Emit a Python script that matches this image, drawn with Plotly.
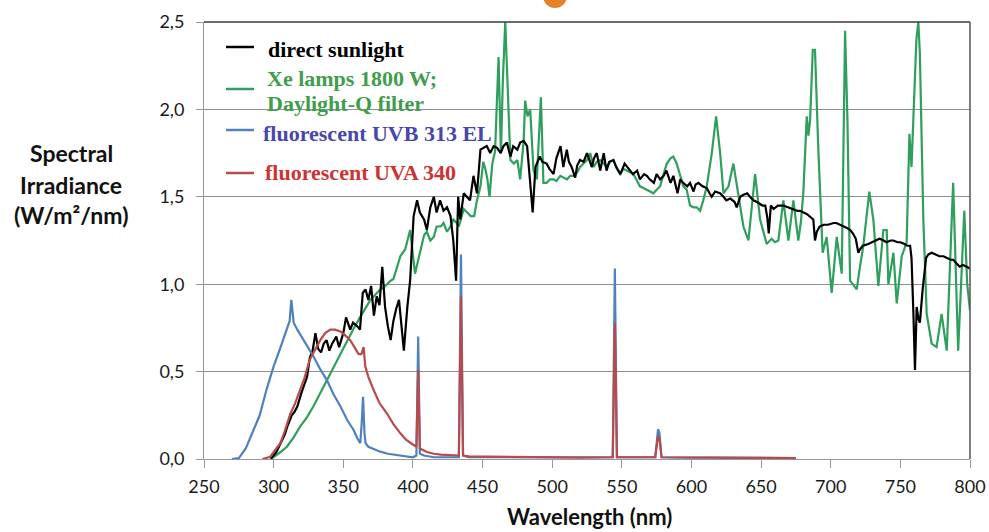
import plotly.graph_objects as go

# ---------------- data ----------------
sun_nm = [298, 302, 305, 308, 310, 313, 315, 317, 320, 322,
          324, 326, 328, 330, 332, 334, 336, 338, 340, 342,
          345, 347, 350, 352, 355, 357, 360, 362, 364, 366,
          368, 370, 372, 374, 376, 378, 380, 382, 384, 386,
          388, 390, 392, 393.5, 396, 398, 400.5, 403, 405, 408,
          410, 412.5, 415, 417, 419.5, 422, 424.5, 427, 429, 431,
          432.5, 434, 436.5, 439, 441, 443.5, 446, 448.5, 451, 453,
          455.5, 458, 460.5, 463, 465, 467.5, 470, 472, 475, 477,
          479.5, 482, 484, 486, 488, 491, 493, 496, 498, 501,
          503, 506, 508, 510.5, 512, 514, 516.5, 518, 520, 522.5,
          525, 527, 528.5, 530, 532, 534.5, 537, 539, 541, 544,
          546, 549, 552, 555, 558, 561, 563, 566, 568, 570,
          573, 575, 577.5, 580, 582, 585, 587, 590, 592, 594,
          597, 599, 601.5, 603, 605, 608, 611, 613, 614.5, 617,
          620.5, 623, 625, 628, 631, 632.5, 635, 637, 640, 642,
          644.5, 647, 649, 651, 653, 654.5, 655.5, 657, 659, 662,
          666, 669, 673, 676, 678, 681, 683, 686, 687.5, 688.7,
          690, 692, 695, 698, 702, 704, 707, 710, 712, 714,
          716, 718, 719.8, 721, 723, 727, 730, 733, 735, 738,
          740, 743, 745, 748, 750, 753, 755, 757, 758, 759.3,
          760.5, 761.7, 763, 764, 766, 768.5, 770, 772.5, 775, 778,
          781, 783, 786, 788, 790, 792.5, 795, 797.5, 800]
sun_val = [0.00, 0.04, 0.09, 0.14, 0.19, 0.25, 0.27, 0.30, 0.38, 0.42,
           0.47, 0.58, 0.62, 0.72, 0.63, 0.61, 0.66, 0.68, 0.62, 0.66,
           0.70, 0.64, 0.72, 0.81, 0.74, 0.78, 0.76, 0.74, 0.95, 0.97,
           0.91, 0.99, 0.82, 0.93, 0.88, 1.10, 0.87, 0.76, 0.68, 0.79,
           0.86, 0.91, 0.75, 0.62, 0.87, 1.02, 1.39, 1.48, 1.41, 1.37,
           1.31, 1.44, 1.50, 1.41, 1.48, 1.42, 1.44, 1.39, 1.25, 1.02,
           1.50, 1.37, 1.52, 1.50, 1.48, 1.62, 1.52, 1.77, 1.78, 1.79,
           1.75, 1.79, 1.78, 1.75, 1.79, 1.81, 1.73, 1.79, 1.77, 1.81,
           1.82, 1.79, 1.60, 1.41, 1.67, 1.73, 1.70, 1.69, 1.66, 1.63,
           1.72, 1.79, 1.67, 1.77, 1.70, 1.67, 1.61, 1.68, 1.71, 1.70,
           1.75, 1.71, 1.67, 1.72, 1.75, 1.65, 1.75, 1.65, 1.70, 1.71,
           1.67, 1.63, 1.69, 1.66, 1.63, 1.65, 1.60, 1.63, 1.62, 1.60,
           1.58, 1.63, 1.60, 1.62, 1.65, 1.58, 1.62, 1.52, 1.60, 1.58,
           1.56, 1.58, 1.53, 1.57, 1.58, 1.56, 1.55, 1.52, 1.50, 1.53,
           1.52, 1.50, 1.48, 1.49, 1.47, 1.44, 1.50, 1.51, 1.52, 1.50,
           1.48, 1.47, 1.46, 1.45, 1.45, 1.38, 1.29, 1.45, 1.43, 1.45,
           1.45, 1.44, 1.43, 1.42, 1.42, 1.41, 1.40, 1.38, 1.37, 1.25,
           1.30, 1.33, 1.34, 1.34, 1.35, 1.35, 1.34, 1.33, 1.32, 1.31,
           1.29, 1.26, 1.18, 1.20, 1.22, 1.23, 1.24, 1.25, 1.26, 1.25,
           1.24, 1.25, 1.25, 1.24, 1.24, 1.23, 1.22, 1.22, 1.15, 0.85,
           0.51, 0.87, 0.80, 0.78, 0.97, 1.15, 1.17, 1.18, 1.17, 1.16,
           1.16, 1.15, 1.14, 1.14, 1.12, 1.10, 1.11, 1.10, 1.09]

xe_nm = [298, 302, 305, 309.5, 314, 319, 324, 328.5, 333, 338,
         343, 348, 352, 357, 362, 366, 369.5, 373, 376.5, 379,
         381.5, 384, 386, 388.5, 391, 394.5, 398, 401.5, 405.5, 408,
         410, 412.5, 415, 417, 420, 422, 424.5, 427, 429, 431.5,
         433, 436.5, 439, 441.5, 444, 446, 448.5, 450.5, 452, 453.5,
         455, 457, 459, 461.5, 463.2, 464.6, 466.3, 468, 470, 472.5,
         475, 477, 479.5, 480.6, 482.3, 484.2, 486.6, 489, 491.9, 493.7,
         496, 498.5, 501, 503, 505.8, 508, 510.6, 513, 515.4, 518,
         520, 522.5, 525, 527.3, 529.7, 532, 534.5, 537, 539.2, 541.5,
         544, 546.5, 548.8, 551, 553.5, 556, 558.3, 561, 563, 565.5,
         568, 570, 572.7, 575, 577.5, 580, 582.3, 585, 587, 589.4,
         592, 594.2, 596.6, 599, 601.5, 603.8, 606.2, 608.5, 611, 614.6,
         617.7, 620.6, 623, 626.6, 630.1, 633.7, 637.3, 640.9, 643, 645.7,
         649.3, 652, 654, 657.6, 660, 662.4, 666, 669.6, 673.2, 676.7,
         678.5, 680.3, 682.8, 684, 685.2, 687.1, 688.7, 691.1, 694.2, 697.1,
         700.7, 704.3, 707.9, 710.3, 712, 713.9, 716, 718.7, 721, 723.4,
         727.7, 730.6, 734.2, 737.8, 740.2, 741.4, 745, 747.4, 751, 754.5,
         756.5, 758, 759.3, 761.5, 762.9, 764, 766.5, 768.9, 772.5, 776,
         779.6, 783.3, 787.9, 791.5, 795.9, 798, 800]
xe_val = [0.00, 0.02, 0.04, 0.07, 0.12, 0.185, 0.24, 0.30, 0.37, 0.45,
          0.52, 0.60, 0.66, 0.74, 0.81, 0.86, 0.91, 0.94, 0.97, 0.98,
          1.00, 1.02, 1.03, 1.10, 1.16, 1.20, 1.31, 1.06, 1.20, 1.28,
          1.30, 1.25, 1.27, 1.33, 1.33, 1.35, 1.30, 1.33, 1.37, 1.35,
          1.33, 1.43, 1.41, 1.39, 1.39, 1.48, 1.56, 1.70, 1.66, 1.60,
          1.50, 1.69, 1.76, 2.30, 1.75, 2.17, 2.50, 2.17, 1.71, 1.69,
          1.71, 1.60, 1.82, 2.05, 1.96, 2.00, 1.65, 1.60, 2.07, 1.58,
          1.58, 1.60, 1.60, 1.59, 1.62, 1.61, 1.60, 1.62, 1.62, 1.64,
          1.67, 1.69, 1.71, 1.75, 1.67, 1.70, 1.71, 1.69, 1.67, 1.70,
          1.71, 1.66, 1.63, 1.66, 1.65, 1.64, 1.63, 1.59, 1.56, 1.55,
          1.54, 1.53, 1.52, 1.54, 1.56, 1.63, 1.69, 1.72, 1.73, 1.69,
          1.62, 1.56, 1.54, 1.45, 1.44, 1.44, 1.42, 1.48, 1.56, 1.75,
          1.96, 1.75, 1.52, 1.56, 1.69, 1.52, 1.33, 1.25, 1.40, 1.63,
          1.37, 1.28, 1.23, 1.26, 1.24, 1.25, 1.48, 1.25, 1.48, 1.25,
          1.35, 1.52, 1.96, 1.85, 1.94, 2.34, 2.34, 1.77, 1.18, 1.27,
          0.95, 1.27, 1.06, 2.45, 1.94, 1.02, 1.00, 0.97, 1.10, 1.22,
          1.53, 1.37, 0.99, 1.31, 1.31, 1.00, 1.18, 0.89, 1.16, 1.24,
          1.86, 1.67, 1.94, 2.40, 2.50, 2.32, 1.37, 0.83, 0.66, 0.64,
          0.83, 0.62, 1.58, 0.62, 1.42, 1.00, 0.85]

uvb_nm = [270, 275, 280, 285, 290, 295, 300, 305, 309.5, 311.5,
          312.7, 314.4, 317, 320, 324, 328.7, 333, 338.3, 343, 348,
          353, 357.4, 360, 362.2, 363.2, 364.2, 365.2, 366, 368, 372,
          376.6, 382, 388.6, 395, 400, 402.5, 403.8, 405, 408, 415,
          425, 433, 434.5, 436, 440, 480, 520, 543.5, 545, 546.5,
          574, 576, 577, 578.5, 600, 640, 675]
uvb_val = [0.00, 0.005, 0.06, 0.15, 0.25, 0.40, 0.53, 0.64, 0.74, 0.79,
           0.91, 0.78, 0.74, 0.70, 0.65, 0.585, 0.52, 0.45, 0.37, 0.30,
           0.22, 0.166, 0.12, 0.09, 0.20, 0.356, 0.15, 0.09, 0.07, 0.055,
           0.042, 0.03, 0.023, 0.015, 0.01, 0.02, 0.70, 0.03, 0.02, 0.01,
           0.01, 0.01, 1.17, 0.02, 0.01, 0.01, 0.008, 0.01, 1.09, 0.01,
           0.01, 0.17, 0.15, 0.01, 0.008, 0.008, 0.005]

uva_nm = [292, 297.6, 301, 304.8, 308, 312, 315, 319, 322, 326,
          330, 333.5, 337, 340.7, 344, 347.9, 351, 355, 358, 361,
          363, 364.6, 365.8, 368, 371.8, 376, 381.4, 386, 391, 395,
          400.5, 402.5, 403.8, 405, 410, 415, 420, 430, 433, 434.5,
          436, 440, 480, 520, 543.5, 545, 546.5, 574, 576, 577,
          578.5, 600, 640, 675]
uva_val = [0.00, 0.013, 0.05, 0.09, 0.16, 0.26, 0.31, 0.39, 0.46, 0.57,
           0.63, 0.68, 0.72, 0.74, 0.74, 0.73, 0.71, 0.68, 0.64, 0.60,
           0.60, 0.64, 0.53, 0.47, 0.395, 0.32, 0.26, 0.20, 0.147, 0.11,
           0.08, 0.07, 0.51, 0.06, 0.04, 0.03, 0.025, 0.02, 0.02, 0.93,
           0.02, 0.015, 0.01, 0.008, 0.01, 0.78, 0.01, 0.01, 0.13, 0.12,
           0.01, 0.008, 0.008, 0.005]

y_ticks = [0, 0.5, 1.0, 1.5, 2.0, 2.5]
y_ticktext = ["0,0", "0,5", "1,0", "1,5", "2,0", "2,5"]
x_ticks = [250, 300, 350, 400, 450, 500, 550, 600, 650, 700, 750, 800]

series_names = ["direct sunlight", "Xe lamps 1800 W; Daylight-Q filter",
                "fluorescent UVB 313 EL", "fluorescent UVA 340"]

# ---------------- styling ----------------
C_SUN = "#000000"
C_XE = "#2e9f5c"
C_UVB = "#4f81bd"
C_UVA = "#b94a4c"

W, H = 989, 532
L, R, T, B = 204, 19, 22, 73
PW, PH = W - L - R, H - T - B


def px(xp):
    return (xp - L) / PW


def py(yp):
    return (H - B - yp) / PH


fig = go.Figure()
fig.add_trace(go.Scatter(x=xe_nm, y=xe_val, mode="lines", name=series_names[1],
                         line=dict(color=C_XE, width=2.2)))
fig.add_trace(go.Scatter(x=sun_nm, y=sun_val, mode="lines", name=series_names[0],
                         line=dict(color=C_SUN, width=2.2)))
fig.add_trace(go.Scatter(x=uvb_nm, y=uvb_val, mode="lines", name=series_names[2],
                         line=dict(color=C_UVB, width=2.2)))
fig.add_trace(go.Scatter(x=uva_nm, y=uva_val, mode="lines", name=series_names[3],
                         line=dict(color=C_UVA, width=2.2)))

tick_font = dict(family="Lato, sans-serif", size=18, color="#1a1a1a")

fig.update_xaxes(range=[250, 800], tickvals=x_ticks, ticks="outside", ticklen=8,
                 tickcolor="#999999", showline=True, linecolor="#999999", linewidth=1,
                 showgrid=False, zeroline=False, tickfont=tick_font, ticklabelstandoff=3,
                 automargin=False)
fig.update_yaxes(range=[0, 2.5], tickvals=y_ticks, ticktext=y_ticktext, ticks="outside",
                 ticklen=7, tickcolor="#999999", showline=True, linecolor="#999999",
                 linewidth=1, showgrid=True, gridcolor="#8f8f8f", gridwidth=1,
                 zeroline=False, tickfont=tick_font, ticklabelstandoff=8,
                 automargin=False)

shapes = [
    # top and right frame of the plot area
    dict(type="line", xref="paper", yref="paper", x0=0, x1=1, y0=1, y1=1,
         line=dict(color="#3a3a3a", width=1.5)),
    dict(type="line", xref="paper", yref="paper", x0=1, x1=1, y0=0, y1=1,
         line=dict(color="#555555", width=1.5)),
    # partly visible logo circle above the chart
    dict(type="circle", xref="paper", yref="paper", x0=px(543), x1=px(567),
         y0=py(8), y1=py(-16), fillcolor="#e8802c", line=dict(width=0)),
]

legend_rows = [(47, C_SUN), (89, C_XE), (130, C_UVB), (173, C_UVA)]
for ly, col in legend_rows:
    shapes.append(dict(type="line", xref="paper", yref="paper", x0=px(226), x1=px(254),
                       y0=py(ly), y1=py(ly), line=dict(color=col, width=2.5)))

leg_font = "Liberation Serif, Times New Roman, serif"
legend_texts = [
    ("direct sunlight", 266, 49, "#000000"),
    ("Xe lamps 1800 W;", 265, 78, "#3f9e4c"),
    ("Daylight-Q filter", 265, 104, "#3f9e4c"),
    ("fluorescent UVB 313 EL", 261, 133, "#4646ac"),
    ("fluorescent UVA 340", 263, 172, "#cc3333"),
]
annotations = []
for txt, lx, ly, col in legend_texts:
    annotations.append(dict(text="<b>%s</b>" % txt, xref="paper", yref="paper",
                            x=px(lx), y=py(ly), xanchor="left", yanchor="middle",
                            showarrow=False, font=dict(family=leg_font, size=22, color=col)))

title_font = dict(family="Lato, sans-serif", size=23, color="#111111")
for txt, ty in [("Spectral", 153), ("Irradiance", 185), ("(W/m²/nm)", 215)]:
    annotations.append(dict(text="<b>%s</b>" % txt, xref="paper", yref="paper",
                            x=px(71), y=py(ty), xanchor="center", yanchor="middle",
                            showarrow=False, font=title_font))
annotations.append(dict(text="<b>Wavelength (nm)</b>", xref="paper", yref="paper",
                        x=px(589), y=py(516), xanchor="center", yanchor="middle",
                        showarrow=False, font=dict(family="Lato, sans-serif", size=22,
                                                   color="#111111")))

fig.update_layout(width=W, height=H, margin=dict(l=L, r=R, t=T, b=B, autoexpand=False),
                  paper_bgcolor="white", plot_bgcolor="white", showlegend=False,
                  shapes=shapes, annotations=annotations)

fig.write_html("out.html", config={"displayModeBar": False},
               post_script="document.body.style.margin='0';"
                           "document.body.style.overflow='hidden';")
